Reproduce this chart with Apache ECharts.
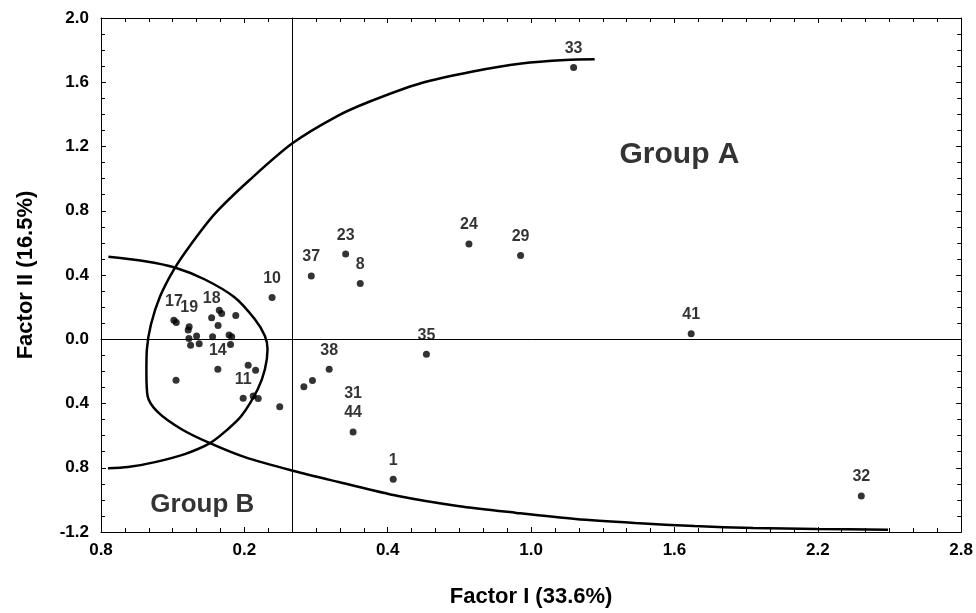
<!DOCTYPE html>
<html>
<head>
<meta charset="utf-8">
<script src="https://cdn.jsdelivr.net/npm/echarts@6/dist/echarts.min.js"></script>
<style>
html,body{margin:0;padding:0;background:#fff;}
#chart{width:976px;height:613px;}
</style>
</head>
<body>
<div id="chart"></div>
<script>
// ---- data (real factor scores) ----
const pointLabels = ['33','24','29','23','8','37','10','41','35','38','','','31\n44','1','32','',
  '17','','19','','','','','','18','','','','','','','','','14','','','','11','',''];
const pointX = [1.178,0.740,0.956,0.224,0.285,0.080,-0.084,1.670,0.562,0.155,0.085,0.049,0.255,0.423,2.382,-0.052,
  -0.495,-0.485,-0.431,-0.435,-0.432,-0.425,-0.400,-0.389,-0.337,-0.305,-0.295,-0.310,-0.236,-0.333,-0.264,-0.253,-0.258,-0.311,-0.486,-0.184,-0.153,-0.205,-0.163,-0.142];
const pointY = [1.692,0.593,0.521,0.530,0.347,0.394,0.260,0.035,-0.094,-0.187,-0.257,-0.295,-0.577,-0.871,-0.976,-0.421,
  0.119,0.105,0.078,0.057,0.005,-0.038,0.020,-0.028,0.134,0.181,0.161,0.086,0.148,0.016,0.026,0.016,-0.032,-0.187,-0.255,-0.162,-0.193,-0.367,-0.353,-0.369];

const groupAX = [1.266,1.144,0.960,0.751,0.538,0.325,0.183,0.001,-0.177,-0.323,-0.424,-0.495,-0.553,-0.591,-0.608,-0.610,
  -0.605,-0.562,-0.463,-0.344,-0.198,0.003,0.195,0.444,0.693,0.939,1.186,1.437,1.684,1.930,2.196,2.494];
const groupAY = [1.743,1.739,1.717,1.666,1.594,1.480,1.385,1.220,0.993,0.782,0.590,0.434,0.266,0.092,-0.063,-0.200,
  -0.353,-0.454,-0.560,-0.647,-0.734,-0.819,-0.889,-0.976,-1.038,-1.081,-1.119,-1.144,-1.163,-1.175,-1.181,-1.186];
const groupBX = [-0.769,-0.616,-0.491,-0.365,-0.240,-0.156,-0.114,-0.103,-0.114,-0.144,-0.212,-0.269,-0.344,-0.449,-0.574,-0.687,-0.771];
const groupBY = [0.513,0.486,0.447,0.372,0.260,0.124,0.020,-0.063,-0.187,-0.311,-0.477,-0.560,-0.647,-0.715,-0.765,-0.796,-0.803];

const groupNames = ['Group A','Group B'];
const groupNameX = [1.621,-0.376];
const groupNameY = [1.149,-1.028];

const xTickLabels = ['0.8','0.2','0.4','1.0','1.6','2.2','2.8'];
const yTickLabels = ['-1.2','0.8','0.4','0.0','0.4','0.8','1.2','1.6','2.0'];
const xTitle = 'Factor I (33.6%)';
const yTitle = 'Factor II (16.5%)';

// axis in tenths, shifted so min is 0 (integer ticks)
const X0 = -0.8, Y0 = -1.2;
const toX = v => Math.round((v - X0) * 1000) / 100;
const toY = v => Math.round((v - Y0) * 1000) / 100;

const FONT = "'Liberation Sans', Arial, sans-serif";
const groupFontSizes = [30, 26];

const pts = pointX.map((x, i) => ({ value: [toX(x), toY(pointY[i])], name: pointLabels[i] }));
const curveA = groupAX.map((x, i) => [toX(x), toY(groupAY[i])]);
const curveB = groupBX.map((x, i) => [toX(x), toY(groupBY[i])]);
const groupPts = groupNames.map((n, i) => ({
  value: [toX(groupNameX[i]), toY(groupNameY[i])], name: n,
  label: { fontSize: groupFontSizes[i] }
}));

function xAxisCfg(pos, showLabel) {
  return {
    type: 'value', min: 0, max: 36, interval: 6, position: pos,
    axisLine: { show: true, onZero: false, lineStyle: { color: '#000', width: 1 } },
    axisTick: { show: true, inside: true, length: 5, lineStyle: { color: '#000' } },
    minorTick: { show: true, splitNumber: 6, length: 4, lineStyle: { color: '#000' } },
    splitLine: { show: false },
    axisLabel: {
      show: showLabel, margin: 10, color: '#000', fontFamily: FONT, fontWeight: 'bold', fontSize: 17,
      showMinLabel: true, showMaxLabel: true,
      formatter: v => xTickLabels[Math.round(v / 6)]
    }
  };
}
function yAxisCfg(pos, showLabel) {
  return {
    type: 'value', min: 0, max: 32, interval: 4, position: pos,
    axisLine: { show: true, onZero: false, lineStyle: { color: '#000', width: 1 } },
    axisTick: { show: true, inside: true, length: 5, lineStyle: { color: '#000' } },
    minorTick: { show: true, splitNumber: 4, length: 4, lineStyle: { color: '#000' } },
    splitLine: { show: false },
    axisLabel: {
      show: showLabel, margin: 12, color: '#000', fontFamily: FONT, fontWeight: 'bold', fontSize: 17,
      showMinLabel: true, showMaxLabel: true,
      formatter: v => yTickLabels[Math.round(v / 4)]
    }
  };
}
// hidden helper axes in real units, used only to place the zero lines crisply
const hiddenX = { type: 'value', min: X0 * 10, max: 28, show: true,
  axisLine: { show: false, onZero: false }, axisTick: { show: false }, axisLabel: { show: false }, splitLine: { show: false } };
const hiddenY = { type: 'value', min: Y0 * 10, max: 20, show: true,
  axisLine: { show: false, onZero: false }, axisTick: { show: false }, axisLabel: { show: false }, splitLine: { show: false } };
const zeroX = { type: 'value', min: 0, max: 36, position: 'bottom',
  axisLine: { show: true, onZero: true, onZeroAxisIndex: 3, lineStyle: { color: '#000', width: 1 } },
  axisTick: { show: false }, axisLabel: { show: false }, splitLine: { show: false } };
const zeroY = { type: 'value', min: 0, max: 32, position: 'left',
  axisLine: { show: true, onZero: true, onZeroAxisIndex: 3, lineStyle: { color: '#000', width: 1 } },
  axisTick: { show: false }, axisLabel: { show: false }, splitLine: { show: false } };

const xa = xAxisCfg('bottom', true);
xa.name = xTitle; xa.nameLocation = 'middle'; xa.nameGap = 54;
xa.nameTextStyle = { color: '#000', fontFamily: FONT, fontWeight: 'bold', fontSize: 22 };
const ya = yAxisCfg('left', true);
ya.name = yTitle; ya.nameLocation = 'middle'; ya.nameGap = 64;
ya.nameTextStyle = { color: '#000', fontFamily: FONT, fontWeight: 'bold', fontSize: 22 };

const chart = echarts.init(document.getElementById('chart'), null, { renderer: 'canvas' });
chart.setOption({
  animation: false,
  backgroundColor: '#fff',
  grid: { left: 101, right: 14, top: 18, bottom: 80, containLabel: false },
  xAxis: [xa, xAxisCfg('top', false), zeroX, hiddenX],
  yAxis: [ya, yAxisCfg('right', false), zeroY, hiddenY],
  series: [
    {
      type: 'line', data: curveA, symbol: 'none', smooth: 0.3, silent: true,
      lineStyle: { color: '#000', width: 2.5 }, z: 2
    },
    {
      type: 'line', data: curveB, symbol: 'none', smooth: 0.3, silent: true,
      lineStyle: { color: '#000', width: 2.5 }, z: 2
    },
    {
      type: 'scatter', data: pts, symbol: 'circle', symbolSize: 7,
      itemStyle: { color: '#000' }, z: 3,
      label: {
        show: true, position: 'top', distance: 6, color: '#000',
        fontFamily: FONT, fontWeight: 'bold', fontSize: 16, lineHeight: 19,
        formatter: p => p.name
      }
    },
    {
      type: 'scatter', data: groupPts, symbolSize: 1, itemStyle: { color: 'rgba(0,0,0,0)' }, z: 4,
      label: {
        show: true, position: 'inside', color: '#000', fontFamily: FONT, fontWeight: 'bold',
        fontSize: 28, formatter: p => p.name
      }
    }
  ]
});
</script>
</body>
</html>
